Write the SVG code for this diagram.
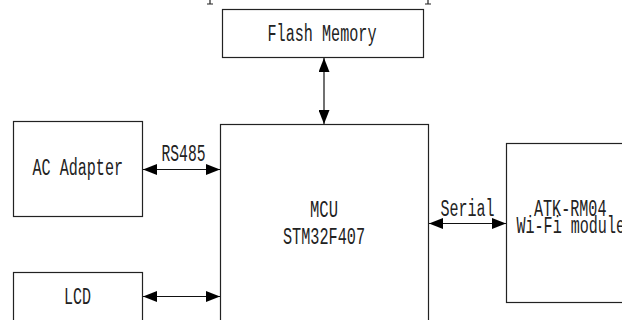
<svg xmlns="http://www.w3.org/2000/svg" width="622" height="320" viewBox="0 0 622 320">
<defs>
<marker id="ah" viewBox="0 0 14 11" refX="14" refY="5.5" markerWidth="14" markerHeight="11" markerUnits="userSpaceOnUse" orient="auto-start-reverse">
<path d="M0,0 L14,5.5 L0,11 Z" fill="#000"/>
</marker>
<style>
.box{fill:#fff;stroke:#222;stroke-width:1.2}
.t{font-family:"Liberation Mono","DejaVu Sans Mono",monospace;font-size:23px;fill:#222}
.c{fill:none;stroke:#111;stroke-width:1.2;marker-start:url(#ah);marker-end:url(#ah)}
</style>
</defs>
<rect width="622" height="320" fill="#fff"/>
<path d="M210,0 V4 M207,4 H213 M428,0 V4 M425,4 H431" stroke="#222" stroke-width="1.2" fill="none"/>
<g id="flash">
<rect class="box" x="222.5" y="9.5" width="201" height="48"/>
<text class="t" x="267.5" y="40.5" textLength="109" lengthAdjust="spacingAndGlyphs">Flash Memory</text>
</g>
<g id="mcu">
<rect class="box" x="220.5" y="124.5" width="208" height="210"/>
<text class="t" x="310" y="216.5" textLength="28" lengthAdjust="spacingAndGlyphs">MCU</text>
<text class="t" x="283" y="244" textLength="82" lengthAdjust="spacingAndGlyphs">STM32F407</text>
</g>
<g id="ac">
<rect class="box" x="13.5" y="121.5" width="129" height="95"/>
<text class="t" x="32.5" y="175" textLength="90.5" lengthAdjust="spacingAndGlyphs">AC Adapter</text>
</g>
<g id="lcd">
<rect class="box" x="13.5" y="272.5" width="129" height="60"/>
<text class="t" x="64" y="303.5" textLength="27" lengthAdjust="spacingAndGlyphs">LCD</text>
</g>
<g id="wifi">
<rect class="box" x="506.5" y="143.5" width="130" height="159"/>
<text class="t" x="534" y="216" textLength="72.5" lengthAdjust="spacingAndGlyphs">ATK-RM04</text>
<text class="t" x="516.5" y="232.5" textLength="108.5" lengthAdjust="spacingAndGlyphs">Wi-Fi module</text>
</g>
<g id="connectors">
<path class="c" d="M324,58 V124"/>
<path class="c" d="M143,169.5 H220"/>
<path class="c" d="M143,296.5 H220"/>
<path class="c" d="M429,223.5 H506"/>
<text class="t" x="161.5" y="160.5" textLength="44" lengthAdjust="spacingAndGlyphs">RS485</text>
<text class="t" x="440.5" y="216" textLength="54" lengthAdjust="spacingAndGlyphs">Serial</text>
</g>
</svg>
